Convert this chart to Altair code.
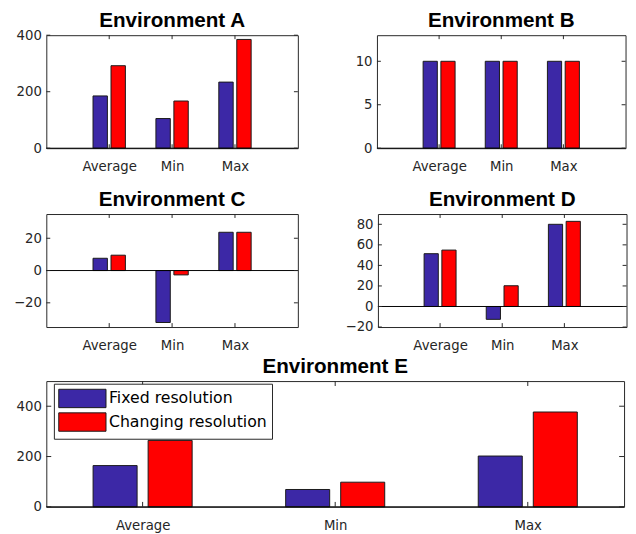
import altair as alt
import pandas as pd

# ---------------- data ----------------
stats = ["Average", "Min", "Max"]
series_names = ["Fixed resolution", "Changing resolution"]

env_a_fixed = [185, 105, 234]
env_a_changing = [292, 167, 385]
env_b_fixed = [10, 10, 10]
env_b_changing = [10, 10, 10]
env_c_fixed = [7.6, -32.2, 23.7]
env_c_changing = [9.5, -2.7, 23.7]
env_d_fixed = [51.4, -12.5, 80]
env_d_changing = [54.9, 20.2, 82.9]
env_e_fixed = [164, 69, 202]
env_e_changing = [264, 98, 377]

a_ticks = [0, 200, 400]
b_ticks = [0, 5, 10]
c_ticks = [-20, 0, 20]
d_ticks = [-20, 0, 20, 40, 60, 80]
e_ticks = [0, 200, 400]

# ---------------- style ----------------
BLUE = "#3c28a6"
RED = "#ff0000"
AXC = "#262626"
GROUP_OFFSET = 0.1429
BAR_W = 0.2286
LABEL_EXPR = "[" + ",".join("'%s'" % s for s in stats) + "][datum.value - 1]"


def panel_df(fixed, changing):
    rows = []
    for i, st in enumerate(stats):
        rows.append({"stat": st, "idx": i + 1, "sidx": 0, "series": series_names[0], "value": fixed[i]})
        rows.append({"stat": st, "idx": i + 1, "sidx": 1, "series": series_names[1], "value": changing[i]})
    return pd.DataFrame(rows)


def panel(title, fixed, changing, xdom, ydom, yticks, width, height, tick_len,
          legend=False, title_offset=4):
    df = panel_df(fixed, changing)
    xscale = alt.Scale(domain=xdom, nice=False, zero=False)
    yscale = alt.Scale(domain=ydom, nice=False, zero=False)
    xaxis = alt.Axis(values=[1, 2, 3], labelExpr=LABEL_EXPR, title=None, ticks=False,
                     domain=False, grid=False, labelPadding=12)
    yaxis = alt.Axis(values=yticks, title=" ", titleX=-32, titleY=0, titleAngle=0,
                     titleAlign="left", titleBaseline="top", titleFontSize=10,
                     titleColor="transparent", ticks=False, domain=False, grid=False,
                     labelPadding=5)
    if legend:
        leg = alt.Legend(orient="none", legendX=7.7, legendY=2.7, title=None,
                         symbolType="M-2.57,-1H2.57V1H-2.57Z", symbolSize=350,
                         symbolStrokeColor="#1a1a1a", symbolStrokeWidth=1, symbolOpacity=1,
                         symbolOffset=14, labelOffset=17, rowPadding=0, labelLimit=400,
                         labelFont="DejaVu Sans", labelFontSize=16, labelColor="black",
                         padding=5, strokeColor=AXC, fillColor="white", cornerRadius=0)
    else:
        leg = None
    half = BAR_W / 2
    bars = alt.Chart(df).transform_calculate(
        x0=f"datum.idx + (datum.sidx == 0 ? -{GROUP_OFFSET} : {GROUP_OFFSET}) - {half}",
        x1=f"datum.idx + (datum.sidx == 0 ? -{GROUP_OFFSET} : {GROUP_OFFSET}) + {half}",
        base="0",
    ).mark_bar(stroke="#1a1a1a", strokeWidth=1, opacity=1).encode(
        x=alt.X("x0:Q", scale=xscale, axis=xaxis),
        x2="x1:Q",
        y=alt.Y("value:Q", scale=yscale, axis=yaxis),
        y2="base:Q",
        color=alt.Color("series:N", scale=alt.Scale(domain=series_names, range=[BLUE, RED]), legend=leg),
    )
    zero_df = pd.DataFrame({"z": [0]})
    zero = alt.Chart(zero_df).mark_rule(color="black", strokeWidth=1).encode(
        y=alt.Y("z:Q", scale=yscale, axis=yaxis))
    yt = pd.DataFrame({"v": yticks})
    xt = pd.DataFrame({"p": [1, 2, 3]})
    yl = alt.Chart(yt).mark_rule(color=AXC, strokeWidth=1).encode(
        y=alt.Y("v:Q", scale=yscale, axis=yaxis), x=alt.value(0), x2=alt.value(tick_len))
    yr = alt.Chart(yt).mark_rule(color=AXC, strokeWidth=1).encode(
        y=alt.Y("v:Q", scale=yscale, axis=yaxis), x=alt.value(width - tick_len), x2=alt.value(width))
    xb = alt.Chart(xt).mark_rule(color=AXC, strokeWidth=1).encode(
        x=alt.X("p:Q", scale=xscale, axis=xaxis), y=alt.value(height), y2=alt.value(height - tick_len))
    xtp = alt.Chart(xt).mark_rule(color=AXC, strokeWidth=1).encode(
        x=alt.X("p:Q", scale=xscale, axis=xaxis), y=alt.value(0), y2=alt.value(tick_len))
    return alt.layer(bars, zero, yl, yr, xb, xtp).properties(
        width=width, height=height, title=alt.Title(title, offset=title_offset))


A = panel("Environment A", env_a_fixed, env_a_changing, [0, 4], [0, 400], a_ticks, 256, 115, 4,
          title_offset=-3)
B = panel("Environment B", env_b_fixed, env_b_changing, [0, 4], [0, 13], b_ticks, 253, 115, 4)
C = panel("Environment C", env_c_fixed, env_c_changing, [0, 4], [-35, 35], c_ticks, 256, 115, 4)
D = panel("Environment D", env_d_fixed, env_d_changing, [0, 4], [-20, 90], d_ticks, 253, 115, 4)
E = panel("Environment E", env_e_fixed, env_e_changing, [0.5, 3.5], [0, 500], e_ticks, 588, 128, 5,
          legend=True)

row1 = alt.hconcat(A, B, spacing=46.5)
row2 = alt.hconcat(C, D, spacing=46.5)
top = alt.vconcat(row1, row2, spacing=15)
chart = alt.vconcat(top, E, spacing=3).resolve_scale(color="independent").resolve_legend(
    color="independent"
).properties(
    padding={"left": 5, "top": -3, "right": 0, "bottom": 0}
).configure_view(
    stroke=AXC, strokeWidth=1
).configure_axis(
    labelFont="DejaVu Sans", labelFontSize=13.5, labelColor=AXC
).configure_title(
    font="Liberation Sans", fontSize=21, fontWeight="bold", color="black",
    anchor="middle", frame="group", baseline="alphabetic"
)

chart.save("out.html", embed_options={"renderer": "svg", "actions": False})
